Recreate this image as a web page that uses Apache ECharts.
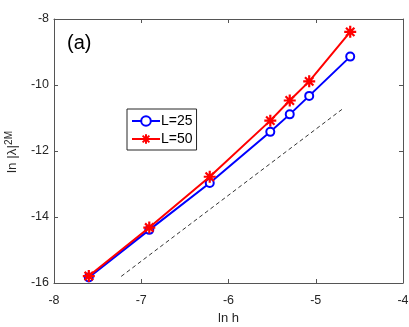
<!DOCTYPE html>
<html>
<head>
<meta charset="utf-8">
<script src="https://cdn.jsdelivr.net/npm/echarts@6/dist/echarts.min.js"></script>
<style>html,body{margin:0;padding:0;background:#fff;}#c{width:409px;height:327px;}</style>
</head>
<body>
<div id="c"></div>
<script>
var lnH = [-7.601, -6.908, -6.215, -5.521, -5.298, -5.075, -4.605];
var L25 = [-15.83, -14.39, -12.97, -11.42, -10.89, -10.33, -9.14];
var L50 = [-15.79, -14.32, -12.78, -11.08, -10.47, -9.89, -8.39];
var refX = [-7.23, -4.70];
var refY = [-15.80, -10.74];
var xTicks = [-8, -7, -6, -5, -4];
var yTicks = [-16, -14, -12, -10, -8];
var seriesNames = ['L=25', 'L=50'];

function pairs(xs, ys) { return xs.map(function (x, i) { return [x, ys[i]]; }); }

var axisColor = '#555';
var textColor = '#262626';
var font = 'Liberation Sans, Arial, sans-serif';
var star = 'path://M0 10 L20 10 M10 0 L10 20 M3 3 L17 17 M17 3 L3 17';

var chart = echarts.init(document.getElementById('c'), null, { renderer: 'canvas' });
chart.setOption({
  animation: false,
  backgroundColor: '#fff',
  grid: { left: 54, top: 19, right: 6, bottom: 44, show: false, containLabel: false, outerBoundsMode: 'none' },
  title: {
    text: '(a)', left: 62, top: 28,
    textStyle: { fontFamily: font, fontSize: 20, fontWeight: 'normal', color: '#000' }
  },
  legend: {
    orient: 'vertical', left: 127, top: 109,
    data: seriesNames,
    backgroundColor: '#fff',
    borderColor: '#262626', borderWidth: 1,
    padding: [5, 4, 4, 4], itemGap: 4,
    itemWidth: 28, itemHeight: 12,
    textStyle: { fontFamily: font, fontSize: 14, color: '#000', padding: [0, 0, 0, -4] }
  },
  xAxis: [{
    type: 'value', min: xTicks[0], max: xTicks[xTicks.length - 1], interval: 1,
    name: 'ln h', nameLocation: 'middle', nameGap: 28,
    nameTextStyle: { fontFamily: font, fontSize: 13, color: textColor },
    axisLine: { show: true, onZero: false, lineStyle: { color: axisColor, width: 1 } },
    axisTick: { show: true, inside: true, length: 4, lineStyle: { color: axisColor } },
    axisLabel: { fontFamily: font, fontSize: 12.5, color: textColor, margin: 11 },
    splitLine: { show: false }
  }, {
    type: 'value', position: 'top', min: xTicks[0], max: xTicks[xTicks.length - 1], interval: 1,
    axisLine: { show: true, onZero: false, lineStyle: { color: axisColor, width: 1 } },
    axisTick: { show: true, inside: true, length: 4, lineStyle: { color: axisColor } },
    axisLabel: { show: false }, splitLine: { show: false }
  }],
  yAxis: [{
    type: 'value', min: yTicks[0], max: yTicks[yTicks.length - 1], interval: 2,
    axisLine: { show: true, onZero: false, lineStyle: { color: axisColor, width: 1 } },
    axisTick: { show: true, inside: true, length: 4, lineStyle: { color: axisColor } },
    axisLabel: { fontFamily: font, fontSize: 12.5, color: textColor, margin: 5 },
    splitLine: { show: false }
  }, {
    type: 'value', position: 'right', min: yTicks[0], max: yTicks[yTicks.length - 1], interval: 2,
    axisLine: { show: true, onZero: false, lineStyle: { color: axisColor, width: 1 } },
    axisTick: { show: true, inside: true, length: 4, lineStyle: { color: axisColor } },
    axisLabel: { show: false }, splitLine: { show: false }
  }],
  graphic: [{
    type: 'text', x: 12, y: 152, rotation: Math.PI / 2,
    style: {
      text: '{a|ln |λ|}{b|2M}',
      fill: textColor, align: 'center', verticalAlign: 'middle',
      rich: {
        a: { fontFamily: font, fontSize: 13.5, fill: textColor, lineHeight: 16 },
        b: { fontFamily: font, fontSize: 10, fill: textColor, verticalAlign: 'top', lineHeight: 16, padding: [0, 0, 6, 0] }
      }
    }
  }],
  series: [{
    name: 'ref', type: 'line', data: pairs(refX, refY), symbol: 'none', silent: true,
    lineStyle: { color: '#000', width: 0.8, type: [4, 3] }, z: 1
  }, {
    name: seriesNames[0], type: 'line', data: pairs(lnH, L25),
    symbol: 'emptyCircle', symbolSize: 8,
    lineStyle: { color: '#0000ff', width: 2 },
    itemStyle: { color: '#0000ff', borderColor: '#0000ff', borderWidth: 2 }, z: 2
  }, {
    name: seriesNames[1], type: 'line', data: pairs(lnH, L50),
    symbol: star, symbolSize: 12,
    lineStyle: { color: '#ff0000', width: 2 },
    itemStyle: { color: '#ff0000', borderColor: '#ff0000', borderWidth: 2.2 }, z: 3
  }]
});
</script>
</body>
</html>
